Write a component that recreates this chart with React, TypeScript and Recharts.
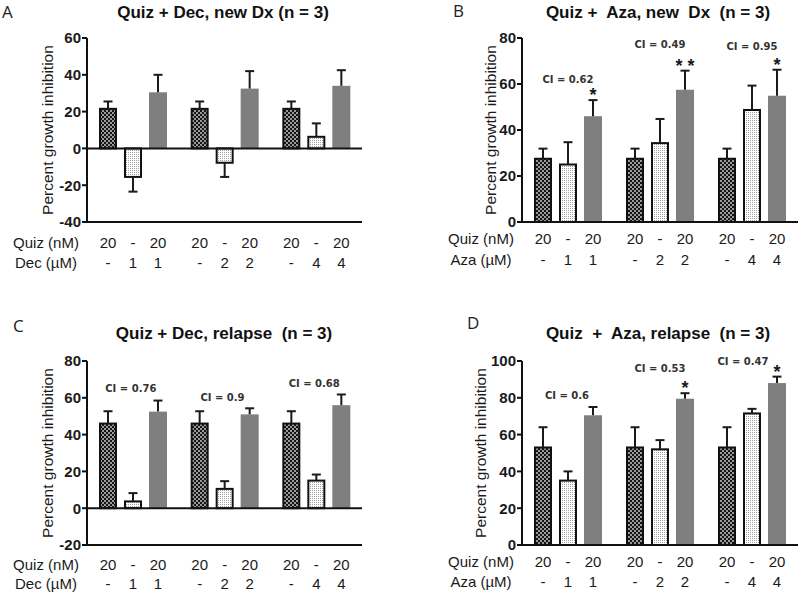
import React from 'react';
import { Bar, BarChart, ReferenceDot, ReferenceLine, XAxis, YAxis } from 'recharts';

const FONT = '"Liberation Sans", Arial, sans-serif';

// shared categories / row labels
const doses = ['1', '2', '4'];
const quizDose = '20';

// A: Quiz + Dec, new Dx
const quizA = [21.5, 21.5, 21.5];
const quizErrA = [4, 4, 4];
const decA = [-15.5, -7.8, 6.3];
const decErrA = [8, 7.7, 7.3];
const comboA = [30.5, 32.5, 34];
const comboErrA = [9.5, 9.5, 8.5];
const ticksA = [-40, -20, 0, 20, 40, 60];

// B: Quiz + Aza, new Dx
const quizB = [27.5, 27.5, 27.5];
const quizErrB = [4.4, 4.4, 4.4];
const azaB = [25, 34.3, 48.7];
const azaErrB = [9.7, 10.5, 10.6];
const comboB = [46, 57.5, 54.9];
const comboErrB = [7, 8.3, 11.3];
const ticksB = [0, 20, 40, 60, 80];
const ciB = ['CI = 0.62', 'CI = 0.49', 'CI = 0.95'];
const ciAtB = [62, 77.2, 76.3];
const starsB = ['*', '* *', '*'];

// C: Quiz + Dec, relapse
const quizC = [46, 46, 46];
const quizErrC = [6.7, 6.7, 6.7];
const decC = [3.7, 10.5, 15];
const decErrC = [4.5, 4.2, 3.3];
const comboC = [52.5, 51, 56];
const comboErrC = [6, 3.3, 5.8];
const ticksC = [-20, 0, 20, 40, 60, 80];
const ciC = ['CI = 0.76', 'CI = 0.9', 'CI = 0.68'];
const ciAtC = [64.8, 59.9, 68];

// D: Quiz + Aza, relapse
const quizD = [53, 53, 53];
const quizErrD = [11, 11, 11];
const azaD = [35, 52, 71.5];
const azaErrD = [5, 5, 2.5];
const comboD = [70.5, 79.5, 88];
const comboErrD = [4.5, 3, 3.5];
const ticksD = [0, 20, 40, 60, 80, 100];
const ciD = ['CI = 0.6', 'CI = 0.53', 'CI = 0.47'];
const ciAtD = [81.5, 95.7, 99.6];
const starsD = ['', '*', '*'];

// small horizontal nudges of CI notes (px), as in the figure
const ciNudgeC = [-2, -2, -2];
const ciNudgeD = [-1, 0, -9];

const makeRows = (
  q: number[], qe: number[], s: number[], se: number[], c: number[], ce: number[], stars?: string[]
) =>
  doses.map((dose, i) => ({
    dose,
    quiz: q[i],
    quizErr: qe[i],
    single: s[i],
    singleErr: se[i],
    combo: c[i],
    comboErr: ce[i],
    star: stars ? stars[i] : '',
  }));

const W = 400;
const H = 296;
const XH = 10;

// draws one bar, its one-sided error whisker, star and the two dose labels under it
const barShape =
  (key: 'quiz' | 'single' | 'combo', fill: string, bordered: boolean, rowY: number[]) =>
  (p: any) => {
    const { x, y, width, height, payload } = p;
    const v = payload[key];
    const err = payload[key + 'Err'];
    const top = Math.min(y, y + height);
    const bot = Math.max(y, y + height);
    const ppu = Math.abs(v) > 0 ? (bot - top) / Math.abs(v) : 0;
    const tip = v >= 0 ? top : bot;
    const end = v >= 0 ? tip - err * ppu : tip + err * ppu;
    const cx = x + width / 2;
    const lbl =
      key === 'quiz' ? [quizDose, '-'] : key === 'single' ? ['-', payload.dose] : [quizDose, payload.dose];
    return (
      <g>
        {bordered ? (
          <rect x={x + 1} y={top} width={width - 2} height={bot - top} fill={fill} stroke="#111" strokeWidth={2} />
        ) : (
          <rect x={x} y={top} width={width} height={bot - top} fill={fill} />
        )}
        <line x1={cx} x2={cx} y1={tip} y2={end} stroke="#1a1a1a" strokeWidth={2} />
        <line x1={cx - 4.5} x2={cx + 4.5} y1={end} y2={end} stroke="#1a1a1a" strokeWidth={2} />
        {key === 'combo' && payload.star ? (
          <text x={cx} y={end + 1} textAnchor="middle" fontSize={18} fontWeight={700} fill="#1a1a1a" fontFamily={FONT}
            style={{ whiteSpace: 'pre' }}>
            {payload.star}
          </text>
        ) : null}
        <text x={cx} y={rowY[0]} textAnchor="middle" fontSize={15} fill="#1a1a1a" fontFamily={FONT}>
          {lbl[0]}
        </text>
        <text x={cx} y={rowY[1]} textAnchor="middle" fontSize={15} fill="#1a1a1a" fontFamily={FONT}>
          {lbl[1]}
        </text>
      </g>
    );
  };

interface PanelProps {
  id: string;
  left: number;
  top: number;
  margin: { top: number; right: number; bottom: number; left: number };
  rows: any[];
  ticks: number[];
  drug: string;
  yGap: number;
  rowOff: number[];
  ci?: string[];
  ciAt?: number[];
  ciNudge?: number[];
}

const Panel = ({ id, left, top, margin, rows, ticks, drug, yGap, rowOff, ci, ciAt, ciNudge }: PanelProps) => {
  const plotBottom = H - margin.bottom - XH;
  const rowY = [plotBottom + rowOff[0], plotBottom + rowOff[1]];
  const domain = [ticks[0], ticks[ticks.length - 1]];

  const yLabel = (props: any) => {
    const vb = props.viewBox;
    const lx = vb.x + vb.width - yGap;
    const ly = vb.y + vb.height / 2;
    return (
      <text x={lx} y={ly} transform={`rotate(-90 ${lx} ${ly})`} textAnchor="middle" dominantBaseline="central"
        fontSize={15.5} fill="#1a1a1a" fontFamily={FONT}>
        Percent growth inhibition
      </text>
    );
  };

  const rowHeads = (props: any) => {
    const vb = props.viewBox;
    const hx = vb.x - 41;
    return (
      <g>
        <text x={hx} y={rowY[0]} textAnchor="middle" fontSize={15} fill="#1a1a1a" fontFamily={FONT}>
          Quiz (nM)
        </text>
        <text x={hx} y={rowY[1]} textAnchor="middle" fontSize={15} fill="#1a1a1a" fontFamily={FONT}>
          {`${drug} (\u00b5M)`}
        </text>
      </g>
    );
  };

  const ciLabel = (text: string, dx: number) => (props: any) => {
    const vb = props.viewBox;
    return (
      <text x={vb.x + vb.width / 2 + dx} y={vb.y + vb.height / 2} textAnchor="middle" dominantBaseline="central"
        fontSize={10} fontWeight={700} fill="#333" fontFamily='"DejaVu Sans", sans-serif'>
        {text}
      </text>
    );
  };

  return (
    <div style={{ position: 'absolute', left, top }}>
      <BarChart width={W} height={H} data={rows} margin={margin} barSize={18} barGap={7} style={{ fontFamily: FONT }}>
        <defs>
          <pattern id={`chk-${id}`} width={4} height={4} patternUnits="userSpaceOnUse">
            <rect width={4} height={4} fill="#151515" />
            <rect width={2} height={2} fill="#9a9a9a" />
            <rect x={2} y={2} width={2} height={2} fill="#9a9a9a" />
          </pattern>
          <pattern id={`dot-${id}`} width={2} height={2} patternUnits="userSpaceOnUse">
            <rect width={2} height={2} fill="#ffffff" />
            <rect width={1} height={1} fill="#a0a0a0" />
          </pattern>
        </defs>
        <XAxis
          dataKey="dose"
          height={XH}
          tick={false}
          tickSize={7}
          stroke="#111"
          tickLine={{ stroke: '#111', strokeWidth: 2 }}
          axisLine={{ stroke: '#111', strokeWidth: 2 }}
          label={rowHeads}
        />
        <YAxis
          width={50}
          type="number"
          domain={domain}
          ticks={ticks}
          interval={0}
          allowDecimals={false}
          tickSize={5}
          tickMargin={1}
          stroke="#111"
          tick={{ fill: '#1a1a1a', fontSize: 15, fontWeight: 700, fontFamily: FONT }}
          tickLine={{ stroke: '#111', strokeWidth: 2 }}
          axisLine={{ stroke: '#111', strokeWidth: 2 }}
          label={yLabel}
        />
        {ticks[0] < 0 ? <ReferenceLine y={0} stroke="#111" strokeWidth={2} /> : null}
        <Bar dataKey="quiz" isAnimationActive={false} shape={barShape('quiz', `url(#chk-${id})`, true, rowY)} />
        <Bar dataKey="single" isAnimationActive={false} shape={barShape('single', `url(#dot-${id})`, true, rowY)} />
        <Bar dataKey="combo" isAnimationActive={false} shape={barShape('combo', '#7f7f7f', false, rowY)} />
        {ci && ciAt
          ? ci.map((t, i) => (
              <ReferenceDot
                key={t}
                x={doses[i]}
                y={ciAt[i]}
                r={0}
                fill="none"
                stroke="none"
                label={ciLabel(t, ciNudge ? ciNudge[i] : 0)}
              />
            ))
          : null}
      </BarChart>
    </div>
  );
};

const titles = [
  { text: 'Quiz + Dec, new Dx (n = 3)', x: 223, y: 18 },
  { text: 'Quiz +  Aza, new  Dx  (n = 3)', x: 658, y: 18 },
  { text: 'Quiz + Dec, relapse  (n = 3)', x: 224, y: 339 },
  { text: 'Quiz  +  Aza, relapse  (n = 3)', x: 658, y: 339 },
];
const letters = [
  { text: 'A', x: 2, y: 18 },
  { text: 'B', x: 453, y: 17 },
  { text: 'C', x: 13, y: 332 },
  { text: 'D', x: 467, y: 329 },
];

export default function App() {
  return (
    <div style={{ position: 'absolute', left: 0, top: 0, width: 800, height: 592, background: '#fff', overflow: 'hidden' }}>
      <Panel
        id="a"
        left={0}
        top={0}
        margin={{ top: 38, right: 38, bottom: 64, left: 37 }}
        rows={makeRows(quizA, quizErrA, decA, decErrA, comboA, comboErrA)}
        ticks={ticksA}
        drug="Dec"
        yGap={40}
        rowOff={[26, 46]}
      />
      <Panel
        id="b"
        left={400}
        top={0}
        margin={{ top: 38, right: 2, bottom: 64, left: 72 }}
        rows={makeRows(quizB, quizErrB, azaB, azaErrB, comboB, comboErrB, starsB)}
        ticks={ticksB}
        drug="Aza"
        yGap={32}
        rowOff={[22, 43]}
        ci={ciB}
        ciAt={ciAtB}
      />
      <Panel
        id="c"
        left={0}
        top={296}
        margin={{ top: 65, right: 38, bottom: 37, left: 37 }}
        rows={makeRows(quizC, quizErrC, decC, decErrC, comboC, comboErrC)}
        ticks={ticksC}
        drug="Dec"
        yGap={40}
        rowOff={[25, 44]}
        ci={ciC}
        ciAt={ciAtC}
        ciNudge={ciNudgeC}
      />
      <Panel
        id="d"
        left={400}
        top={296}
        margin={{ top: 65, right: 2, bottom: 37, left: 72 }}
        rows={makeRows(quizD, quizErrD, azaD, azaErrD, comboD, comboErrD, starsD)}
        ticks={ticksD}
        drug="Aza"
        yGap={42}
        rowOff={[22, 42]}
        ci={ciD}
        ciAt={ciAtD}
        ciNudge={ciNudgeD}
      />
      <svg width={800} height={592} style={{ position: 'absolute', left: 0, top: 0, pointerEvents: 'none' }}>
        {titles.map((t) => (
          <text key={t.text} x={t.x} y={t.y} textAnchor="middle" fontSize={17} fontWeight={700} fill="#111"
            fontFamily={FONT} style={{ whiteSpace: 'pre' }}>
            {t.text}
          </text>
        ))}
        {letters.map((l) => (
          <text key={l.text} x={l.x} y={l.y} fontSize={17} fill="#222" fontFamily='"Open Sans", sans-serif'>
            {l.text}
          </text>
        ))}
      </svg>
    </div>
  );
}
